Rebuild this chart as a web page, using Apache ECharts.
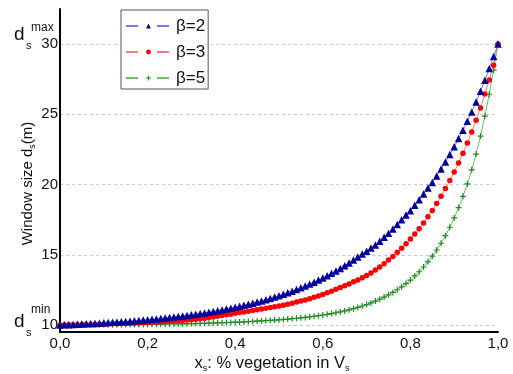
<!DOCTYPE html>
<html>
<head>
<meta charset="utf-8">
<script src="https://cdn.jsdelivr.net/npm/echarts@6/dist/echarts.min.js"></script>
<style>
  html, body { margin: 0; padding: 0; background: #fff; }
  #chart { width: 513px; height: 374px; }
</style>
</head>
<body>
<div id="chart"></div>
<script>
// x_s: share of vegetation in V_s
const xs = [
  0.00, 0.01, 0.02, 0.03, 0.04, 0.05, 0.06, 0.07, 0.08, 0.09,
  0.10, 0.11, 0.12, 0.13, 0.14, 0.15, 0.16, 0.17, 0.18, 0.19,
  0.20, 0.21, 0.22, 0.23, 0.24, 0.25, 0.26, 0.27, 0.28, 0.29,
  0.30, 0.31, 0.32, 0.33, 0.34, 0.35, 0.36, 0.37, 0.38, 0.39,
  0.40, 0.41, 0.42, 0.43, 0.44, 0.45, 0.46, 0.47, 0.48, 0.49,
  0.50, 0.51, 0.52, 0.53, 0.54, 0.55, 0.56, 0.57, 0.58, 0.59,
  0.60, 0.61, 0.62, 0.63, 0.64, 0.65, 0.66, 0.67, 0.68, 0.69,
  0.70, 0.71, 0.72, 0.73, 0.74, 0.75, 0.76, 0.77, 0.78, 0.79,
  0.80, 0.81, 0.82, 0.83, 0.84, 0.85, 0.86, 0.87, 0.88, 0.89,
  0.90, 0.91, 0.92, 0.93, 0.94, 0.95, 0.96, 0.97, 0.98, 0.99,
  1.00,
];

// window size d_s (m), one value per x
const beta2 = [
  10.00, 10.01, 10.02, 10.04, 10.05, 10.07, 10.08, 10.10, 10.11, 10.13,
  10.15, 10.17, 10.19, 10.21, 10.23, 10.25, 10.27, 10.30, 10.32, 10.35,
  10.37, 10.40, 10.43, 10.46, 10.50, 10.53, 10.57, 10.60, 10.64, 10.68,
  10.72, 10.77, 10.81, 10.86, 10.91, 10.96, 11.02, 11.07, 11.13, 11.20,
  11.26, 11.33, 11.40, 11.47, 11.55, 11.63, 11.71, 11.80, 11.89, 11.99,
  12.08, 12.19, 12.30, 12.41, 12.53, 12.65, 12.78, 12.91, 13.05, 13.20,
  13.35, 13.51, 13.68, 13.85, 14.03, 14.22, 14.42, 14.62, 14.84, 15.06,
  15.25, 15.49, 15.70, 15.97, 16.24, 16.53, 16.84, 17.16, 17.49, 17.83,
  18.14, 18.52, 18.91, 19.32, 19.75, 20.15, 20.61, 21.10, 21.61, 22.14,
  22.69, 23.27, 23.87, 24.50, 25.16, 25.88, 26.64, 27.43, 28.26, 29.11,
  30.00,
];

const beta3 = [
  10.00, 10.00, 10.01, 10.01, 10.02, 10.03, 10.03, 10.04, 10.05, 10.05,
  10.06, 10.07, 10.08, 10.09, 10.10, 10.11, 10.12, 10.13, 10.14, 10.15,
  10.17, 10.18, 10.20, 10.22, 10.24, 10.26, 10.28, 10.30, 10.32, 10.35,
  10.38, 10.41, 10.44, 10.48, 10.53, 10.57, 10.62, 10.67, 10.72, 10.77,
  10.83, 10.88, 10.93, 10.98, 11.03, 11.08, 11.13, 11.19, 11.24, 11.29,
  11.35, 11.41, 11.48, 11.55, 11.63, 11.71, 11.78, 11.87, 11.97, 12.07,
  12.17, 12.29, 12.41, 12.54, 12.66, 12.79, 12.92, 13.07, 13.21, 13.37,
  13.53, 13.71, 13.91, 14.13, 14.36, 14.62, 14.88, 15.17, 15.47, 15.78,
  16.12, 16.48, 16.86, 17.26, 17.70, 18.16, 18.65, 19.16, 19.71, 20.28,
  20.89, 21.54, 22.23, 22.96, 23.74, 24.57, 25.45, 26.45, 27.45, 28.50,
  30.00,
];

const beta5 = [
  10.00, 10.00, 10.00, 10.00, 10.00, 10.01, 10.01, 10.01, 10.01, 10.01,
  10.01, 10.02, 10.02, 10.02, 10.02, 10.03, 10.03, 10.03, 10.04, 10.04,
  10.04, 10.05, 10.05, 10.06, 10.06, 10.07, 10.07, 10.08, 10.08, 10.09,
  10.10, 10.10, 10.11, 10.12, 10.13, 10.14, 10.15, 10.16, 10.17, 10.18,
  10.20, 10.21, 10.22, 10.24, 10.25, 10.27, 10.29, 10.31, 10.33, 10.35,
  10.37, 10.39, 10.42, 10.45, 10.48, 10.51, 10.54, 10.58, 10.62, 10.66,
  10.71, 10.76, 10.81, 10.87, 10.93, 11.00, 11.08, 11.16, 11.25, 11.35,
  11.45, 11.57, 11.70, 11.84, 11.99, 12.15, 12.32, 12.51, 12.72, 12.95,
  13.20, 13.49, 13.79, 14.13, 14.50, 14.90, 15.34, 15.82, 16.36, 16.96,
  17.62, 18.35, 19.16, 20.05, 21.05, 22.17, 23.45, 24.87, 26.43, 28.15,
  30.00,
];

const seriesNames = ["β=2", "β=3", "β=5"];
const yTicks = [10, 15, 20, 25, 30];

const plusPath = "path://M4,0 L6,0 L6,4 L10,4 L10,6 L6,6 L6,10 L4,10 L4,6 L0,6 L0,4 L4,4 Z";

const chart = echarts.init(document.getElementById("chart"), null, { renderer: "canvas" });

function pairs(ys) {
  return ys.map((v, i) => [xs[i], v]);
}

const font = "Liberation Sans, Arial, sans-serif";

const options = {
  animation: false,
  backgroundColor: "#fff",
  textStyle: { fontFamily: font },
  grid: { left: 60, right: 15, top: 9, bottom: 42, outerBoundsMode: "none" },
  legend: {
    orient: "vertical",
    left: 121,
    top: 10,
    padding: [6, 3, 1, 4],
    itemGap: 6,
    itemWidth: 45,
    itemHeight: 6,
    borderColor: "#555",
    borderWidth: 1,
    backgroundColor: "#fff",
    lineStyle: { type: [12, 19] },
    textStyle: { fontSize: 17, color: "#111", fontFamily: font, lineHeight: 20 },
    data: seriesNames,
  },
  xAxis: {
    type: "value",
    min: 0,
    max: 1,
    interval: 0.2,
    name: "x{sub|s}: % vegetation in V{sub|s}",
    nameLocation: "middle",
    nameGap: 21,
    nameMoveOverlap: false,
    nameTextStyle: {
      fontSize: 16.5,
      color: "#111",
      padding: [0, 14, 0, 0],
      rich: { sub: { fontSize: 9, color: "#111", padding: [11, 0, 0, 0] } },
    },
    axisLine: { lineStyle: { color: "#000", width: 2 } },
    axisTick: { show: false },
    splitLine: { show: false },
    axisLabel: {
      fontSize: 15,
      color: "#111",
      margin: 4,
      formatter: function (value) {
        return value.toFixed(1).replace(".", ",");
      },
    },
  },
  yAxis: {
    type: "value",
    min: 9.5,
    max: 32.5,
    name: "Window size d{sub|s}(m)",
    nameLocation: "middle",
    nameGap: 23,
    nameMoveOverlap: false,
    nameTextStyle: {
      fontSize: 15,
      color: "#111",
      padding: [0, 26, 0, 0],
      rich: { sub: { fontSize: 9, color: "#111", padding: [10, 0, 0, 0] } },
    },
    axisLine: { show: true, lineStyle: { color: "#000", width: 2 } },
    axisTick: { show: false, customValues: yTicks },
    axisLabel: { fontSize: 15, color: "#111", margin: 2, customValues: yTicks },
    splitLine: { show: true, lineStyle: { color: "#c8c8c8", type: [3, 3], width: 1 } },
  },
  graphic: [
    { type: "text", left: 14, top: 25, style: { text: "d", fontSize: 19, fill: "#111", fontFamily: font } },
    { type: "text", left: 26, top: 40, style: { text: "s", fontSize: 11, fill: "#111", fontFamily: font } },
    { type: "text", left: 31, top: 22, style: { text: "max", fontSize: 12, fill: "#111", fontFamily: font } },
    { type: "text", left: 14, top: 312, style: { text: "d", fontSize: 19, fill: "#111", fontFamily: font } },
    { type: "text", left: 26, top: 327, style: { text: "s", fontSize: 11, fill: "#111", fontFamily: font } },
    { type: "text", left: 31, top: 304, style: { text: "min", fontSize: 12, fill: "#111", fontFamily: font } },
  ],
  series: [
    {
      name: seriesNames[0],
      type: "line",
      data: pairs(beta2),
      symbol: "triangle",
      symbolSize: 7.5,
      itemStyle: { color: "#00009c" },
      lineStyle: { color: "#7878e6", width: 1 },
      z: 4,
    },
    {
      name: seriesNames[1],
      type: "line",
      data: pairs(beta3),
      symbol: "circle",
      symbolSize: 5.5,
      itemStyle: { color: "#ff0000" },
      lineStyle: { color: "#ff7a7a", width: 1 },
      z: 3,
    },
    {
      name: seriesNames[2],
      type: "line",
      data: pairs(beta5),
      symbol: plusPath,
      symbolSize: 6,
      itemStyle: { color: "#1f8a1f" },
      lineStyle: { color: "#6cbd6c", width: 1 },
      z: 2,
    },
  ],
};

chart.setOption(options);
</script>
</body>
</html>
